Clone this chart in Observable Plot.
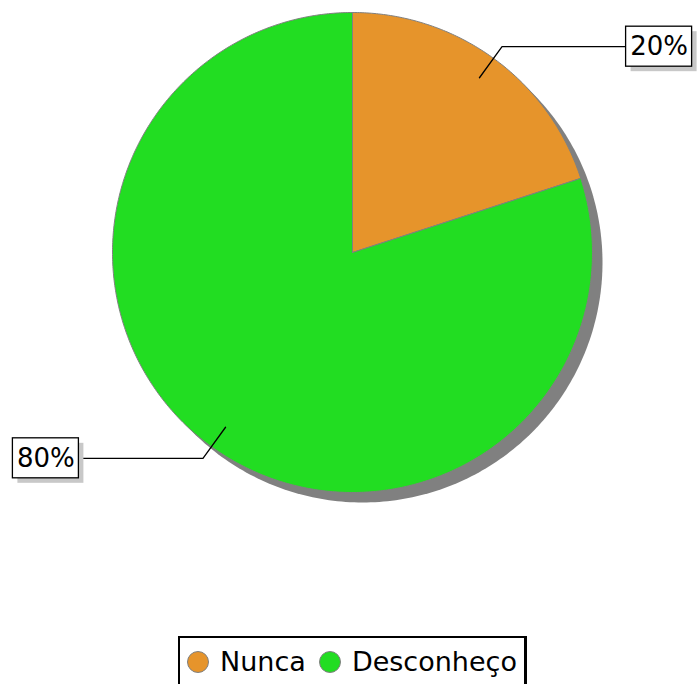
<!DOCTYPE html>
<html><head><meta charset="utf-8">
<script src="https://cdn.jsdelivr.net/npm/d3@7"></script>
<script src="https://cdn.jsdelivr.net/npm/@observablehq/plot@0.6"></script>
<style>
body{margin:0;background:#fff;font-family:"DejaVu Sans",sans-serif;}
#legend{display:flex;justify-content:center;margin-top:6px;padding-left:8px;}
#legend .box{border:2px solid #000;border-right-width:3px;padding:8px 7px 20px 7px;display:flex;align-items:center;gap:13px;font-size:27px;line-height:32px;}
#legend .item{display:flex;align-items:center;gap:11px;}
#legend .dot{width:22px;height:22px;border-radius:50%;border:1px solid #808080;box-sizing:border-box;}
</style></head>
<body><div id="chart"></div><div id="legend"></div>
<script>
const categories = ["Nunca", "Desconheço"];
const values = [20, 80];
const labels = ["20%", "80%"];
const colors = ["#e6942b", "#22dd22"];

const W = 697, H = 630, R = 240, CX = 352, CY = 252;
const total = d3.sum(values);
const slices = [];
let start = 0;
values.forEach((v, i) => {
  const a0 = start / total * 2 * Math.PI, a1 = (start + v) / total * 2 * Math.PI;
  const n = Math.max(4, Math.ceil((a1 - a0) / 0.01));
  slices.push({cat: categories[i], x: 0, y: 0});
  for (let j = 0; j <= n; j++) {
    const a = a0 + (a1 - a0) * j / n;
    slices.push({cat: categories[i], x: Math.sin(a), y: Math.cos(a)});
  }
  slices.push({cat: categories[i], x: 0, y: 0});
  start += v;
});
const off = 10 / R;
const shadow = d3.range(0, 361).map(d => ({x: Math.sin(d * Math.PI / 180) + off, y: Math.cos(d * Math.PI / 180) - off}));

start = 0;
const leaders = [], boxes = [];
const bw = 66 / R, bh = 40 / R;
values.forEach((v, i) => {
  const a = (start + v / 2) / total * 2 * Math.PI;
  start += v;
  const sx = Math.sin(a), sy = Math.cos(a);
  const side = sx >= 0 ? 1 : -1;
  const ex = 1.06 * sx, ey = 1.06 * sy;
  const hx = side * 1.14;
  leaders.push({i, x: 0.9 * sx, y: 0.9 * sy}, {i, x: ex, y: ey}, {i, x: hx, y: ey});
  const x1 = side > 0 ? hx : hx - bw, x2 = side > 0 ? hx + bw : hx;
  boxes.push({label: labels[i], x1, x2, y1: ey - bh / 2, y2: ey + bh / 2, xc: (x1 + x2) / 2, yc: ey});
});
const so = 5 / R;

const plot = Plot.plot({
  width: W, height: H, margin: 0,
  x: {domain: [-CX / R, (W - CX) / R], axis: null},
  y: {domain: [-(H - CY) / R, CY / R], axis: null},
  marks: [
    Plot.line(shadow, {x: "x", y: "y", fill: "#808080", stroke: "none"}),
    Plot.line(slices, {x: "x", y: "y", z: "cat", fill: d => colors[categories.indexOf(d.cat)], stroke: "#808080", strokeWidth: 1}),
    Plot.line(leaders, {x: "x", y: "y", z: "i", stroke: "#000", strokeWidth: 1.3}),
    Plot.rect(boxes, {x1: d => d.x1 + so, x2: d => d.x2 + so, y1: d => d.y1 - so, y2: d => d.y2 - so, fill: "#c8c8c8"}),
    Plot.rect(boxes, {x1: "x1", x2: "x2", y1: "y1", y2: "y2", fill: "#fff", stroke: "#000", strokeWidth: 1.3}),
    Plot.text(boxes, {x: "xc", y: "yc", text: "label", fontSize: 26, fill: "#000", fontFamily: "DejaVu Sans"})
  ]
});
document.getElementById("chart").appendChild(plot);

const lg = document.getElementById("legend");
const box = document.createElement("div"); box.className = "box";
categories.forEach((c, i) => {
  const it = document.createElement("div"); it.className = "item";
  const dot = document.createElement("span"); dot.className = "dot"; dot.style.background = colors[i];
  const t = document.createElement("span"); t.textContent = c;
  it.appendChild(dot); it.appendChild(t); box.appendChild(it);
});
lg.appendChild(box);
</script></body></html>
